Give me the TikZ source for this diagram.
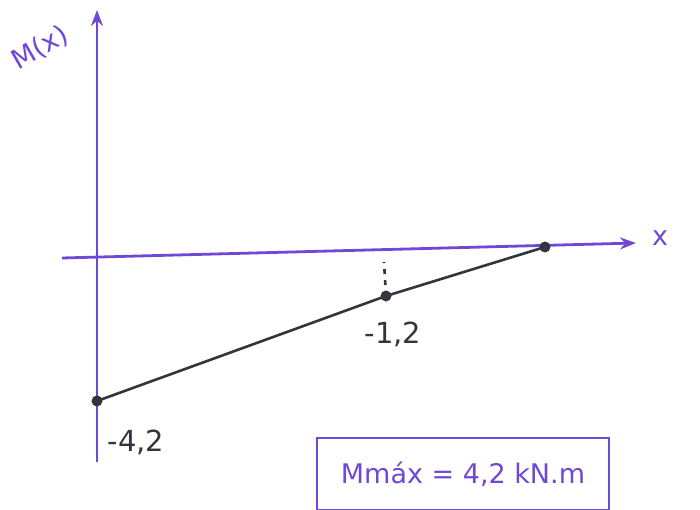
\documentclass[tikz,border=0pt]{standalone}
\usepackage{fontspec}
\setmainfont{DejaVu Sans}
\usetikzlibrary{arrows.meta}
\definecolor{pen}{RGB}{112,72,214}
\definecolor{ink}{RGB}{50,52,62}
\begin{document}
\begin{tikzpicture}[x=1pt,y=-1pt,
  axis/.style={pen,line width=2.8pt,-{Stealth[length=16pt,width=12pt]}},
  graph/.style={ink,line width=2.6pt},
  dot/.style={circle,fill=ink,inner sep=0pt,minimum size=11pt},
  lbl/.style={ink,font=\fontsize{29}{29}\selectfont},
  plbl/.style={pen,font=\fontsize{27}{27}\selectfont}]
\useasboundingbox (0,0) rectangle (700,510);
% axes
\coordinate (vb) at (97,462);
\coordinate (vt) at (97,10);
\coordinate (hl) at (62,258);
\coordinate (hr) at (636,243);
\draw[axis] (vb) -- (vt);
\draw[axis] (hl) -- (hr);
\node[plbl,rotate=30] (mx) at (40,48) {M(x)};
\node[plbl] (xl) at (660,238) {x};
% graph
\node[dot] (a) at (97,401) {};
\node[dot] (b) at (386,296) {};
\node[dot] (c) at (545,247) {};
\draw[graph] (a.center) -- (b.center) -- (c.center);
\coordinate (bt) at (384,262);
\draw[ink,line width=2.6pt,dash pattern=on 5pt off 6pt] (b.center) -- (bt);
\node[lbl] (l1) at (393,334) {-1,2};
\node[lbl] (l2) at (136,442) {-4,2};
% result box
\node[pen,draw,line width=2.8pt,minimum width=292pt,minimum height=72pt,font=\fontsize{27}{27}\selectfont] (box) at (463,474) {Mmáx = 4,2 kN.m};
\end{tikzpicture}
\end{document}
